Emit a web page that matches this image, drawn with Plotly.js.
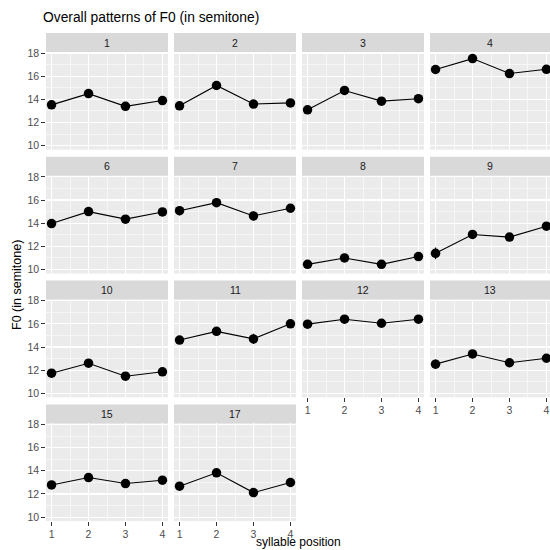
<!DOCTYPE html>
<html>
<head>
<meta charset="utf-8">
<script src="https://cdn.plot.ly/plotly-3.0.1.min.js"></script>
<style>html,body{margin:0;padding:0;background:#fff;}#chart{width:550px;height:550px;}</style>
</head>
<body>
<div id="chart"></div>
<script>
// ---- data ----
const speakers = ['1','2','3','4','6','7','8','9','10','11','12','13','15','17'];
const position = [1, 2, 3, 4];
const meanF0 = [
  [13.53, 14.50, 13.40, 13.90],
  [13.45, 15.20, 13.60, 13.70],
  [13.10, 14.77, 13.85, 14.06],
  [16.58, 17.52, 16.23, 16.60],
  [13.97, 15.00, 14.35, 14.97],
  [15.08, 15.77, 14.63, 15.29],
  [10.45, 11.00, 10.45, 11.12],
  [11.40, 13.03, 12.80, 13.74],
  [11.74, 12.60, 11.48, 11.86],
  [14.60, 15.35, 14.70, 16.00],
  [15.97, 16.40, 16.05, 16.40],
  [12.52, 13.40, 12.64, 13.03],
  [12.78, 13.42, 12.90, 13.19],
  [12.67, 13.83, 12.12, 12.99]
];
const seF0 = [
  [0.30, 0.15, 0.30, 0.15],
  [0.35, 0.20, 0.20, 0.15],
  [0.20, 0.15, 0.15, 0.15],
  [0.15, 0.15, 0.15, 0.15],
  [0.20, 0.15, 0.15, 0.15],
  [0.40, 0.35, 0.40, 0.25],
  [0.20, 0.15, 0.15, 0.15],
  [0.50, 0.30, 0.20, 0.15],
  [0.30, 0.20, 0.15, 0.15],
  [0.35, 0.30, 0.45, 0.30],
  [0.25, 0.15, 0.20, 0.15],
  [0.40, 0.25, 0.35, 0.20],
  [0.20, 0.20, 0.15, 0.35],
  [0.35, 0.20, 0.20, 0.20]
];
const yTickVals = [10, 12, 14, 16, 18];
const xTickVals = [1, 2, 3, 4];
const titleText = 'Overall patterns of F0 (in semitone)';
const xTitle = 'syllable position';
const yTitle = 'F0 (in semitone)';

// ---- layout geometry (pixels) ----
const W = 550, H = 550;
const colX = [[46, 168], [174, 296], [302, 424], [430, 550]];
const stripTop = [33, 156.8, 280.6, 404.4];
const stripH = 19, panelH = 97.7;
const ppu = 122 / 3.3;
const yRange = [9.66, 18.09];
const px = v => v / W;
const py = v => 1 - v / H;

const traces = [];
const layout = {
  width: W, height: H,
  margin: {l: 0, r: 0, t: 0, b: 0},
  paper_bgcolor: '#FFFFFF',
  plot_bgcolor: '#EBEBEB',
  showlegend: false,
  font: {family: 'Liberation Sans, Arial, sans-serif', color: '#4D4D4D'},
  title: {
    text: titleText, x: px(43), xanchor: 'left', xref: 'paper',
    y: py(17.5), yanchor: 'middle', yref: 'paper',
    font: {size: 13.8, color: '#000000', family: 'Liberation Sans, Arial, sans-serif'}
  },
  shapes: [],
  annotations: []
};

const bottomIdx = new Set([10, 11, 12, 13]);
speakers.forEach((sp, i) => {
  const col = i % 4, row = Math.floor(i / 4);
  const id = i === 0 ? '' : String(i + 1);
  const [x0, x1] = colX[col];
  const pTop = stripTop[row] + stripH;
  const pBot = pTop + panelH;
  const showX = bottomIdx.has(i);
  const showY = col === 0;
  layout['xaxis' + id] = {
    domain: [px(x0), px(x1)],
    anchor: 'y' + id,
    range: [0.85, 0.85 + (x1 - x0) / ppu],
    tickvals: xTickVals,
    ticktext: xTickVals.map(String),
    showticklabels: showX,
    ticks: showX ? 'outside' : '',
    ticklen: 3.5, tickwidth: 1, tickcolor: '#333333',
    tickfont: {size: 10.5, color: '#4D4D4D'},
    showgrid: true, gridcolor: '#FFFFFF', gridwidth: 1.1,
    minor: {dtick: 0.5, tick0: 0.5, showgrid: true, gridcolor: '#FFFFFF', gridwidth: 0.55},
    zeroline: false, showline: false, fixedrange: true
  };
  layout['yaxis' + id] = {
    domain: [py(pBot), py(pTop)],
    anchor: 'x' + id,
    range: yRange,
    tickvals: yTickVals,
    ticktext: yTickVals.map(String),
    showticklabels: showY,
    ticks: showY ? 'outside' : '',
    ticklen: 3.7, tickwidth: 1, tickcolor: '#333333',
    tickfont: {size: 10.5, color: '#4D4D4D'},
    showgrid: true, gridcolor: '#FFFFFF', gridwidth: 1.1,
    minor: {dtick: 1, tick0: 11, showgrid: true, gridcolor: '#FFFFFF', gridwidth: 0.55},
    zeroline: false, showline: false, fixedrange: true
  };
  layout.shapes.push({
    type: 'rect', xref: 'paper', yref: 'paper',
    x0: px(x0), x1: px(x1), y0: py(stripTop[row] + stripH), y1: py(stripTop[row]),
    fillcolor: '#D9D9D9', line: {width: 0}, layer: 'below'
  });
  layout.annotations.push({
    text: sp, xref: 'paper', yref: 'paper',
    x: px((x0 + x1) / 2), y: py(stripTop[row] + stripH / 2),
    xanchor: 'center', yanchor: 'middle', showarrow: false,
    font: {size: 10.5, color: '#1A1A1A'}
  });
  traces.push({
    type: 'scatter', mode: 'lines+markers',
    x: position, y: meanF0[i],
    xaxis: 'x' + id, yaxis: 'y' + id,
    line: {color: '#000000', width: 1.1},
    marker: {color: '#000000', size: 9.5},
    error_y: {type: 'data', array: seF0[i], visible: true, color: '#000000', thickness: 1.1, width: 0},
    hoverinfo: 'skip', cliponaxis: false
  });
});

layout.annotations.push({
  text: xTitle, xref: 'paper', yref: 'paper',
  x: px(299), y: 0, xanchor: 'center', yanchor: 'bottom', showarrow: false,
  borderpad: 0, font: {size: 12, color: '#000000'}
});
layout.annotations.push({
  text: yTitle, xref: 'paper', yref: 'paper', textangle: -90,
  x: px(17), y: py(285), xanchor: 'center', yanchor: 'middle', showarrow: false,
  font: {size: 12.5, color: '#000000'}
});

Plotly.newPlot('chart', traces, layout, {staticPlot: true, displayModeBar: false});
</script>
</body>
</html>
